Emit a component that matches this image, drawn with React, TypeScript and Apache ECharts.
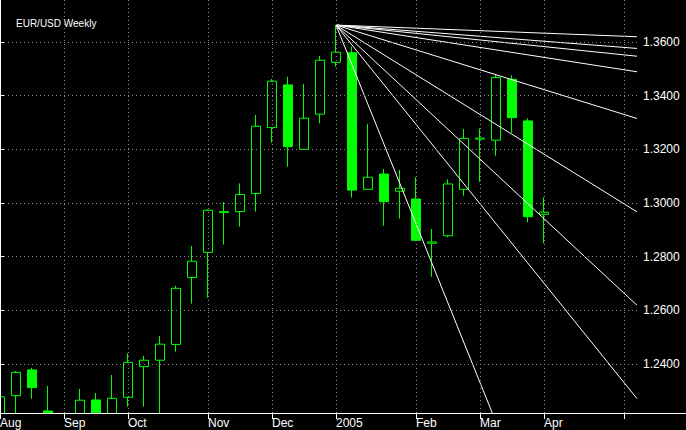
import React, { useEffect, useRef } from "react";
import * as echarts from "echarts";

// Weekly EUR/USD candles (week index from first week of Aug 2004)
const weeks = [0,1,2,3,4,5,6,7,8,9,10,11,12,13,14,15,16,17,18,19,20,21,22,23,24,25,26,27,28,29,30,31,32,33,34];
const opens = [1.2040,1.2282,1.2378,1.2225,1.2080,1.2150,1.2266,1.2200,1.2276,1.2390,1.2414,1.2473,1.2722,1.2816,1.2964,1.2968,1.3035,1.3281,1.3440,1.3200,1.3331,1.3524,1.3560,1.3051,1.3108,1.3044,1.3015,1.2850,1.2878,1.3051,1.3238,1.3234,1.3461,1.3306,1.2958];
const highs = [1.2293,1.2374,1.2386,1.2318,1.2200,1.2307,1.2292,1.2359,1.2440,1.2430,1.2505,1.2691,1.2840,1.2977,1.3003,1.3073,1.3328,1.3462,1.3470,1.3444,1.3548,1.3663,1.3583,1.3294,1.3127,1.3123,1.3096,1.2903,1.3088,1.3276,1.3278,1.3480,1.3476,1.3316,1.3021];
const lows = [1.2030,1.2190,1.2270,1.2100,1.2000,1.2130,1.2170,1.2180,1.2241,1.2241,1.2210,1.2446,1.2625,1.2647,1.2845,1.2912,1.2968,1.3225,1.3135,1.3198,1.3297,1.3508,1.3020,1.3049,1.2915,1.2942,1.2858,1.2725,1.2872,1.3027,1.3079,1.3176,1.3262,1.2928,1.2850];
const closes = [1.2278,1.2369,1.2312,1.2150,1.2150,1.2265,1.2190,1.2272,1.2406,1.2414,1.2474,1.2682,1.2783,1.2973,1.2968,1.3032,1.3286,1.3454,1.3210,1.3316,1.3532,1.3562,1.3048,1.3096,1.3005,1.3055,1.2861,1.2855,1.3071,1.3241,1.3242,1.3468,1.3318,1.2949,1.2966];

// Month ticks (week index) and labels
const monthTickWeeks = [0, 4, 8, 13, 17, 21, 26, 30, 34, 39];
const monthLabels = ["Aug", "Sep", "Oct", "Nov", "Dec", "2005", "Feb", "Mar", "Apr", ""];
const labelWeeks = [0, 4, 8, 13, 17, 21, 26, 30, 34];

// Price axis ticks
const priceTicks = [1.24, 1.26, 1.28, 1.3, 1.32, 1.34, 1.36];

// Gann fan from the week-21 high
const fanAnchorWeek = 21;
const fanRatios = [1 / 8, 1 / 4, 1 / 3, 1 / 2, 1, 2, 3, 4, 8];
const fanUnitPerWeek = 0.00185;

const X_MIN = 0;
const X_MAX = 39.8125;
const Y_MIN = 1.22174;
const Y_MAX = 1.37565;

const FONT = "'Liberation Sans', Arial, sans-serif";

export default function App() {
  const ref = useRef<HTMLDivElement>(null);
  useEffect(() => {
    if (!ref.current) return;
    const chart = echarts.init(ref.current, null, { renderer: "svg" });
    const candleData = weeks.map((w, i) => [w, opens[i], closes[i], lows[i], highs[i]]);
    const apexPrice = highs[fanAnchorWeek];
    const fanSeries = fanRatios.map((r) => ({
      type: "line",
      data: [
        [fanAnchorWeek, apexPrice],
        [X_MAX, apexPrice - r * fanUnitPerWeek * (X_MAX - fanAnchorWeek)],
      ],
      showSymbol: false,
      symbol: "none",
      silent: true,
      clip: true,
      lineStyle: { color: "#ffffff", width: 1 },
      z: 3,
    }));
    chart.setOption({
      animation: false,
      backgroundColor: "#000000",
      title: {
        text: "EUR/USD Weekly",
        left: 16,
        top: 18,
        padding: 0,
        textStyle: { color: "#ffffff", fontSize: 10, fontWeight: "normal", fontFamily: FONT },
      },
      grid: { left: 0, right: 49, top: 0, bottom: 17, containLabel: false, outerBoundsMode: "none" },
      xAxis: {
        type: "value",
        min: X_MIN,
        max: X_MAX,
        z: 10,
        axisLine: { show: true, lineStyle: { color: "#ffffff", width: 1 } },
        axisTick: { show: true, length: 6, customValues: monthTickWeeks, lineStyle: { color: "#ffffff" } },
        axisLabel: {
          show: true,
          customValues: labelWeeks,
          margin: 4,
          align: "left",
          color: "#ffffff",
          fontSize: 12,
          fontFamily: FONT,
          formatter: (v: number) => {
            const k = monthTickWeeks.indexOf(Math.round(v));
            return k >= 0 ? monthLabels[k] : "";
          },
        },
        splitLine: { show: true, lineStyle: { color: "#8c8c8c", type: [1, 3], width: 1 } },
      },
      yAxis: {
        type: "value",
        position: "right",
        min: Y_MIN,
        max: Y_MAX,
        z: 10,
        axisLine: { show: true, lineStyle: { color: "#ffffff", width: 1 } },
        axisTick: { show: true, length: 4, customValues: priceTicks, lineStyle: { color: "#ffffff" } },
        axisLabel: {
          show: true,
          customValues: priceTicks,
          margin: 6,
          color: "#ffffff",
          fontSize: 12,
          fontFamily: FONT,
          formatter: (v: number) => v.toFixed(4),
        },
        splitLine: { show: true, lineStyle: { color: "#8c8c8c", type: [1, 3], width: 1 } },
      },
      graphic: [
        {
          type: "rect",
          shape: { x: 0, y: 414, width: 686, height: 16 },
          style: { fill: "#000000" },
          silent: true,
          z: 5,
        },
        {
          type: "line",
          shape: { x1: 637, y1: 413.5, x2: 686, y2: 413.5 },
          style: { stroke: "#ffffff", lineWidth: 1 },
          silent: true,
          z: 11,
        },
      ],
      series: [
        {
          type: "candlestick",
          data: candleData,
          encode: { x: 0, y: [1, 2, 3, 4] },
          barWidth: 10,
          clip: true,
          silent: true,
          itemStyle: {
            color: "#000000",
            color0: "#00ff00",
            borderColor: "#00ff00",
            borderColor0: "#00ff00",
            borderWidth: 1,
          },
          z: 2,
        },
        ...fanSeries,
      ],
    });
    return () => chart.dispose();
  }, []);
  return (
    <div
      ref={ref}
      style={{ position: "absolute", left: 0, top: 0, width: 686, height: 430 }}
    />
  );
}
